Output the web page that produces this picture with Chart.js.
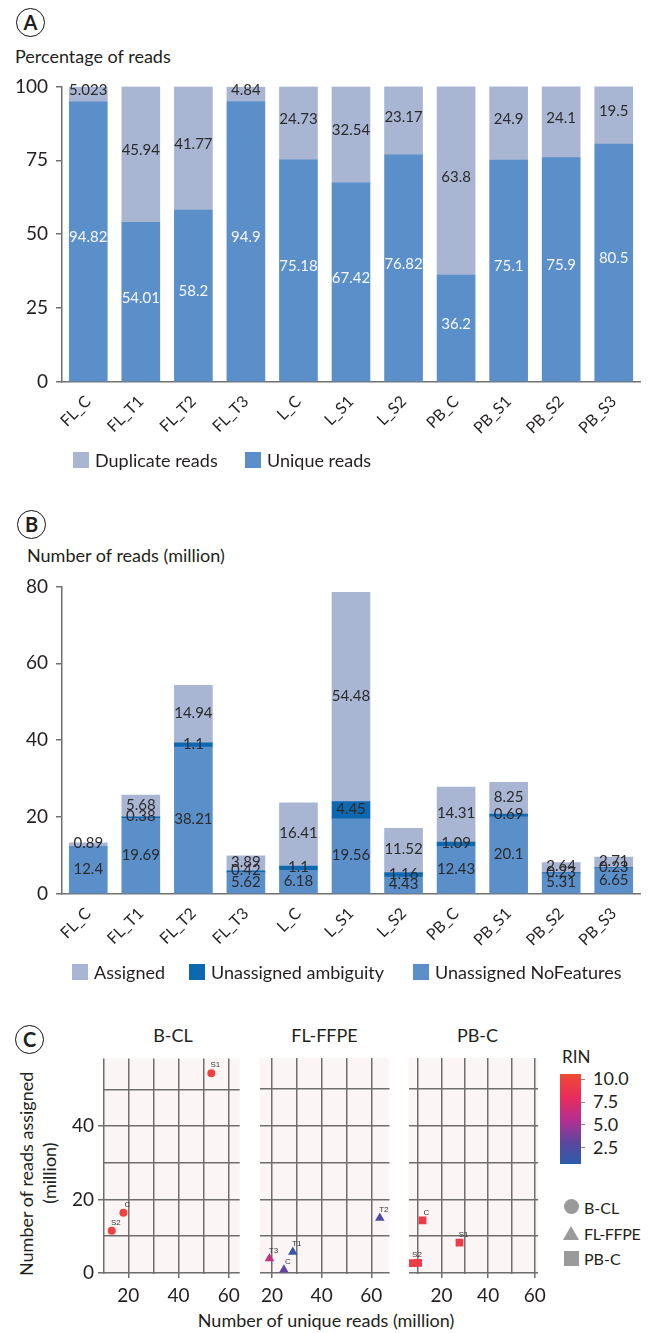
<!DOCTYPE html>
<html>
<head>
<meta charset="utf-8">
<script src="https://cdn.jsdelivr.net/npm/chart.js@4.4.0/dist/chart.umd.min.js"></script>
<style>
  body { margin: 0; background: #fff; font-family: Lato, "Open Sans", sans-serif; color: #231f20; }
  #page { position: relative; width: 649px; height: 1333px; overflow: hidden; }
  canvas { position: absolute; }
  .tag { position: absolute; box-sizing: border-box; width: 29px; height: 29px; border: 1.6px solid #111;
         border-radius: 50%; font-weight: 700; font-size: 20px; text-align: center; line-height: 26px; }
  .txt { position: absolute; white-space: nowrap; font-size: 18px; line-height: 20px; }
  .key { position: absolute; display: flex; align-items: center; height: 20px; font-size: 18px; white-space: nowrap; }
  .key i { display: inline-block; width: 16px; height: 16px; margin-right: 6px; }
  .shape { font-size: 16px; }
</style>
</head>
<body>
<div id="page">
  <div class="tag" style="left:16px;top:8px">A</div>
  <div class="txt" style="left:15px;top:46px">Percentage of reads</div>
  <canvas id="chartA" width="649" height="383" style="left:0;top:67px"></canvas>
  <div class="key" style="left:73px;top:450px"><i style="background:#a9b6d3"></i>Duplicate reads</div>
  <div class="key" style="left:245px;top:450px"><i style="background:#5b8fca"></i>Unique reads</div>

  <div class="tag" style="left:17px;top:510px">B</div>
  <div class="txt" style="left:27px;top:545px">Number of reads (million)</div>
  <canvas id="chartB" width="649" height="395" style="left:0;top:567px"></canvas>
  <div class="key" style="left:72px;top:962px"><i style="background:#a9b6d3"></i>Assigned</div>
  <div class="key" style="left:189px;top:962px"><i style="background:#0d67b1"></i>Unassigned ambiguity</div>
  <div class="key" style="left:413px;top:962px"><i style="background:#5b8fca"></i>Unassigned NoFeatures</div>

  <div class="tag" style="left:15px;top:1025px">C</div>
  <div class="txt" style="left:103px;width:140px;text-align:center;top:1025px">B-CL</div>
  <div class="txt" style="left:257px;width:135px;text-align:center;top:1025px">FL-FFPE</div>
  <div class="txt" style="left:406px;width:143px;text-align:center;top:1025px">PB-C</div>
  <canvas id="facet1" width="186" height="263" style="left:60px;top:1043px"></canvas>
  <canvas id="facet2" width="141" height="256" style="left:254px;top:1050px"></canvas>
  <canvas id="facet3" width="149" height="256" style="left:403px;top:1050px"></canvas>
  <div class="txt" style="left:100px;width:452px;text-align:center;top:1310px">Number of unique reads (million)</div>
  <div class="txt" style="left:-74px;width:200px;text-align:center;top:1166px;transform:rotate(-90deg)">Number of reads assigned</div>
  <div class="txt" style="left:-51px;width:200px;text-align:center;top:1163px;transform:rotate(-90deg)">(million)</div>

  <div class="txt" style="left:562px;top:1047px;font-size:17px">RIN</div>
  <div id="rinBar" style="position:absolute;left:560px;top:1074px;width:21px;height:90px"></div>
  <div id="rinTicks"></div>

  <div style="position:absolute;left:564px;top:1199px;width:15px;height:15px;border-radius:50%;background:#9a9a9a"></div>
  <div class="key shape" style="left:584px;top:1197px">B-CL</div>
  <div style="position:absolute;left:563px;top:1226px;width:0;height:0;border-left:8px solid transparent;border-right:8px solid transparent;border-bottom:14px solid #9a9a9a"></div>
  <div class="key shape" style="left:584px;top:1223px;letter-spacing:-0.4px">FL-FFPE</div>
  <div style="position:absolute;left:564px;top:1251px;width:15px;height:15px;background:#9a9a9a"></div>
  <div class="key shape" style="left:584px;top:1248px">PB-C</div>
</div>

<script>
// panel A: share of reads per library
const categories = ["FL_C", "FL_T1", "FL_T2", "FL_T3", "L_C", "L_S1", "L_S2", "PB_C", "PB_S1", "PB_S2", "PB_S3"]
const uniqueReads = [94.82, 54.01, 58.2, 94.9, 75.18, 67.42, 76.82, 36.2, 75.1, 75.9, 80.5]
const duplicateReads = [5.023, 45.94, 41.77, 4.84, 24.73, 32.54, 23.17, 63.8, 24.9, 24.1, 19.5]
const percentTicks = [0, 25, 50, 75, 100]

// panel B: read counts (million)
const noFeatures = [12.4, 19.69, 38.21, 5.62, 6.18, 19.56, 4.43, 12.43, 20.1, 5.31, 6.65]
const ambiguity = [null, 0.38, 1.1, 0.42, 1.1, 4.45, 1.16, 1.09, 0.69, 0.23, 0.23]
const assigned = [0.89, 5.68, 14.94, 3.89, 16.41, 54.48, 11.52, 14.31, 8.25, 2.64, 2.71]
const countTicks = [0, 20, 40, 60, 80]

// panel C: unique vs assigned reads, coloured by RIN
const bclNames = ["S1", "C", "S2"]
const bclUnique = [53.1, 18.05, 13.4]
const bclAssigned = [54.48, 16.41, 11.52]
const bclRin = [10, 10, 10]

const flNames = ["C", "T1", "T2", "T3"]
const flUnique = [24.8, 28.4, 63.4, 19.0]
const flAssigned = [0.89, 5.68, 14.94, 3.89]
const flRin = [3.2, 1.2, 2.4, 6.3]

const pbNames = ["C", "S1", "S2", "S3"]
const pbUnique = [11.9, 27.75, 7.8, 10.0]
const pbAssigned = [14.31, 8.25, 2.64, 2.71]
const pbRin = [9.4, 9.4, 9.4, 9.4]
const hiddenNames = ["S3"]

const uniqueTicks = [20, 40, 60]
const assignedTicks = [0, 20, 40]
const rinTicks = [2.5, 5.0, 7.5, 10.0]
const rinRange = [0.7, 10.6]
const rinStops = [[0.7, "#2a5caa"], [3, "#5b479f"], [5.5, "#b42f92"], [8, "#e82c5e"], [10.6, "#ef4a33"]]

const LIGHT = "#a9b6d3"
const MID = "#5b8fca"
const DARK = "#0d67b1"
const AXIS = "#707070"
const INK = "#231f20"
const GRID = "#6e6e6e"
const PANEL = "#fcf5f5"

Chart.defaults.font.family = "Lato, 'Open Sans', sans-serif"
Chart.defaults.color = INK

const segmentLabels = {
  id: "segmentLabels",
  afterDatasetsDraw(chart, args, opts) {
    const ctx = chart.ctx
    ctx.save()
    ctx.font = `${opts.size}px Lato`
    ctx.textAlign = "center"
    ctx.textBaseline = "middle"
    chart.data.datasets.forEach((ds, d) => {
      chart.getDatasetMeta(d).data.forEach((bar, i) => {
        const v = ds.data[i]
        if (v == null) return
        ctx.fillStyle = ds.labelColor
        ctx.fillText(String(v), bar.x, (bar.y + bar.base) / 2 + opts.shift)
      })
    })
    ctx.restore()
  }
}

function stackedOptions(ticks, shift) {
  return {
    responsive: false,
    animation: false,
    layout: { padding: { top: 13, right: 9, left: 0, bottom: 0 } },
    plugins: { legend: { display: false }, tooltip: { enabled: false }, segmentLabels: { size: 15, shift } },
    scales: {
      x: {
        stacked: true,
        grid: { display: false },
        border: { color: AXIS, width: 1.5 },
        ticks: { font: { size: 16 }, minRotation: 45, maxRotation: 45, autoSkip: false, padding: 2 },
        afterFit: s => { s.height = 68 }
      },
      y: {
        stacked: true,
        min: ticks[0],
        max: ticks[ticks.length - 1],
        grid: { drawOnChartArea: false, tickLength: 6, color: AXIS, lineWidth: 1.5 },
        border: { color: AXIS, width: 1.5 },
        ticks: { stepSize: ticks[1] - ticks[0], padding: 8, font: { size: 19 } },
        afterFit: s => { s.width = 62 }
      }
    }
  }
}

new Chart(document.getElementById("chartA"), {
  type: "bar",
  data: {
    labels: categories,
    datasets: [
      { label: "Unique reads", data: uniqueReads, backgroundColor: MID, barThickness: 38, labelColor: "#f5f7fb" },
      { label: "Duplicate reads", data: duplicateReads, backgroundColor: LIGHT, barThickness: 38, labelColor: "#2b2b2b" }
    ]
  },
  options: stackedOptions(percentTicks, -4),
  plugins: [segmentLabels]
})

new Chart(document.getElementById("chartB"), {
  type: "bar",
  data: {
    labels: categories,
    datasets: [
      { label: "Unassigned NoFeatures", data: noFeatures, backgroundColor: MID, barThickness: 38, labelColor: "#2b2b2b" },
      { label: "Unassigned ambiguity", data: ambiguity, backgroundColor: DARK, barThickness: 38, labelColor: "#2b2b2b" },
      { label: "Assigned", data: assigned, backgroundColor: LIGHT, barThickness: 38, labelColor: "#2b2b2b" }
    ]
  },
  options: stackedOptions(countTicks, -1),
  plugins: [segmentLabels]
})

// RIN colour scale
function hexRgb(h) {
  return [1, 3, 5].map(k => parseInt(h.slice(k, k + 2), 16))
}
function rinColour(v) {
  for (let k = 1; k < rinStops.length; k++) {
    const [v0, c0] = rinStops[k - 1]
    const [v1, c1] = rinStops[k]
    if (v <= v1 || k === rinStops.length - 1) {
      const t = Math.max(0, Math.min(1, (v - v0) / (v1 - v0)))
      const a = hexRgb(c0), b = hexRgb(c1)
      return `rgb(${a.map((x, j) => Math.round(x + (b[j] - x) * t)).join(",")})`
    }
  }
}

const bar = document.getElementById("rinBar")
const span = rinRange[1] - rinRange[0]
bar.style.background = "linear-gradient(to top, " +
  rinStops.map(([v, c]) => `${c} ${((v - rinRange[0]) / span * 100).toFixed(1)}%`).join(", ") + ")"
const tickBox = document.getElementById("rinTicks")
rinTicks.forEach(v => {
  const y = 1074 + (rinRange[1] - v) / span * 90
  tickBox.insertAdjacentHTML("beforeend",
    `<div style="position:absolute;left:581px;top:${y - 0.5}px;width:4px;height:1px;background:#888"></div>` +
    `<div class="txt" style="left:593px;top:${y - 11}px">${v.toFixed(1)}</div>`)
})

const panelBackground = {
  id: "panelBackground",
  beforeDraw(chart) {
    const { ctx, chartArea: a } = chart
    ctx.save()
    ctx.fillStyle = PANEL
    ctx.fillRect(a.left, a.top, a.right - a.left, a.bottom - a.top)
    ctx.restore()
  }
}

const pointNames = {
  id: "pointNames",
  afterDatasetsDraw(chart) {
    const ctx = chart.ctx
    ctx.save()
    ctx.font = "8px 'Liberation Sans'"
    ctx.fillStyle = "#333"
    ctx.textAlign = "center"
    ctx.textBaseline = "middle"
    chart.data.datasets.forEach((ds, d) => {
      chart.getDatasetMeta(d).data.forEach((pt, i) => {
        if (hiddenNames.includes(ds.names[i]) && ds.hideNames) return
        ctx.fillText(ds.names[i], pt.x + 4, pt.y - 8)
      })
    })
    ctx.restore()
  }
}

function facet(id, names, xs, ys, rins, shape, radius, xMin, xMax, showY, hideNames) {
  const tickColour = list => c => (c.tick && list.includes(c.tick.value)) ? GRID : "rgba(0,0,0,0)"
  new Chart(document.getElementById(id), {
    type: "scatter",
    data: {
      datasets: [{
        data: xs.map((x, i) => ({ x, y: ys[i] })),
        names,
        hideNames,
        pointStyle: shape,
        pointRadius: radius,
        backgroundColor: rins.map(rinColour),
        borderWidth: 0
      }]
    },
    options: {
      responsive: false,
      animation: false,
      layout: { padding: { top: 8, left: showY ? 0 : 3, right: 3, bottom: 0 } },
      plugins: { legend: { display: false }, tooltip: { enabled: false } },
      scales: {
        x: {
          type: "linear",
          min: xMin,
          max: xMax,
          grid: { color: GRID, lineWidth: 1.5, tickLength: 4, tickColor: tickColour(uniqueTicks) },
          border: { display: false },
          ticks: {
            stepSize: 10, includeBounds: false, autoSkip: false, maxRotation: 0, padding: 6,
            font: { size: 19 }, callback: v => uniqueTicks.includes(v) ? v : ""
          },
          afterFit: s => { s.height = 32 }
        },
        y: {
          min: -0.3,
          max: 58.5,
          grid: { color: GRID, lineWidth: 1.5, drawTicks: showY, tickLength: 5, tickColor: tickColour(assignedTicks) },
          border: { display: false },
          ticks: {
            display: showY, stepSize: 10, includeBounds: false, padding: 4,
            font: { size: 19 }, callback: v => assignedTicks.includes(v) ? v : ""
          },
          afterFit: s => { s.width = showY ? 43 : 0 }
        }
      }
    },
    plugins: [panelBackground, pointNames]
  })
}

facet("facet1", bclNames, bclUnique, bclAssigned, bclRin, "circle", 4, 9.9, 64.4, true, false)
facet("facet2", flNames, flUnique, flAssigned, flRin, "triangle", 5.5, 15.0, 67.3, false, false)
facet("facet3", pbNames, pbUnique, pbAssigned, pbRin, "rect", 5.5, 5.9, 61.4, false, true)
</script>
</body>
</html>
